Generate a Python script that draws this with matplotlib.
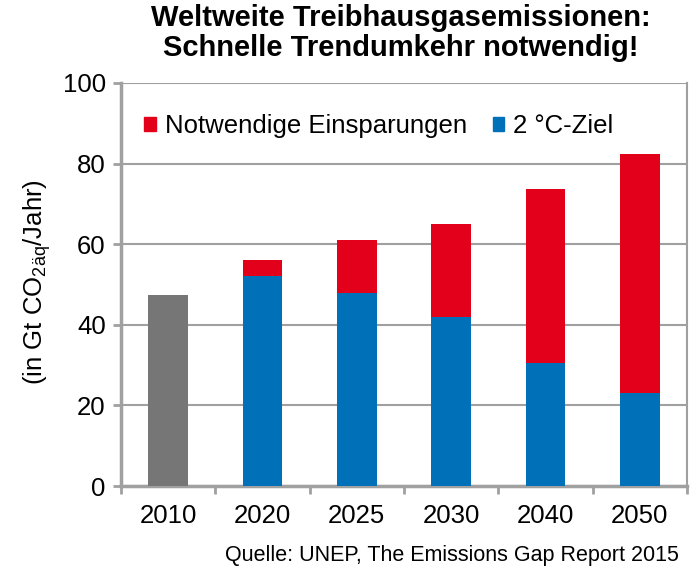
import matplotlib
matplotlib.use('Agg')
import matplotlib.pyplot as plt
import numpy as np
from matplotlib.patches import Patch

# Data (Gt CO2-eq per year)
years = ['2010', '2020', '2025', '2030', '2040', '2050']
historic = [47.5, 0, 0, 0, 0, 0]
ziel_2c = [0, 52, 48, 42, 30.5, 23]
einsparungen = [0, 4, 13, 23, 43.2, 59.4]

red = '#E2001A'
blue = '#0070B8'
grey = '#767676'
axis_grey = '#A0A0A0'

plt.rcParams['font.family'] = ['Liberation Sans', 'DejaVu Sans']
plt.rcParams['mathtext.default'] = 'regular'

fig = plt.figure(figsize=(6.94, 5.72), dpi=100)
ax = fig.add_axes([121 / 694, 1 - 486 / 572, 566 / 694, 403 / 572])

x = np.arange(len(years))
w = 0.42
ax.bar(x, historic, w, color=grey, zorder=3)
ax.bar(x, ziel_2c, w, color=blue, zorder=3)
ax.bar(x, einsparungen, w, bottom=ziel_2c, color=red, zorder=3)

ax.set_xlim(-0.5, len(years) - 0.5)
ax.set_ylim(0, 100)
ax.set_yticks(np.arange(0, 101, 20))
ax.set_xticks(np.arange(-0.5, len(years), 1.0))
ax.set_xticklabels([])
ax.set_xticks(x, minor=True)
ax.set_xticklabels(years, minor=True)
ax.tick_params(axis='x', which='minor', length=0, pad=13, labelsize=18.5)
ax.tick_params(axis='x', which='major', length=6, width=2, color=axis_grey)
ax.tick_params(axis='y', length=6, width=2, color=axis_grey, labelsize=18.5, pad=5)

ax.yaxis.grid(True, color=axis_grey, linewidth=1.5, zorder=0)
for side in ['left', 'bottom']:
    ax.spines[side].set_color(axis_grey)
    ax.spines[side].set_linewidth(2.5)
ax.spines['right'].set_color(axis_grey)
ax.spines['right'].set_linewidth(1.5)
ax.spines['top'].set_visible(False)

handles = [Patch(color=red, label='Notwendige Einsparungen'),
           Patch(color=blue, label='2 °C-Ziel')]
ax.legend(handles=handles, ncol=2, loc='upper left',
          bbox_to_anchor=(139 / 694, 1 - 109 / 572), bbox_transform=fig.transFigure,
          frameon=False, fontsize=18.5, handlelength=0.45, handleheight=0.45,
          handletextpad=0.35, columnspacing=1.0, borderaxespad=0.0, borderpad=0.2)

fig.text(37 / 694, 1 - 282 / 572, '(in Gt CO$_{2äq}$/Jahr)', rotation=90,
         ha='center', va='center', fontsize=18.5)
fig.text(401 / 694, 1 - 33 / 572,
         'Weltweite Treibhausgasemissionen:\nSchnelle Trendumkehr notwendig!',
         ha='center', va='center', fontsize=21, fontweight='bold', linespacing=1.1)
fig.text(679 / 694, 1 - 555 / 572, 'Quelle: UNEP, The Emissions Gap Report 2015',
         ha='right', va='center', fontsize=15.5)

fig.savefig('out.png', dpi=100)
